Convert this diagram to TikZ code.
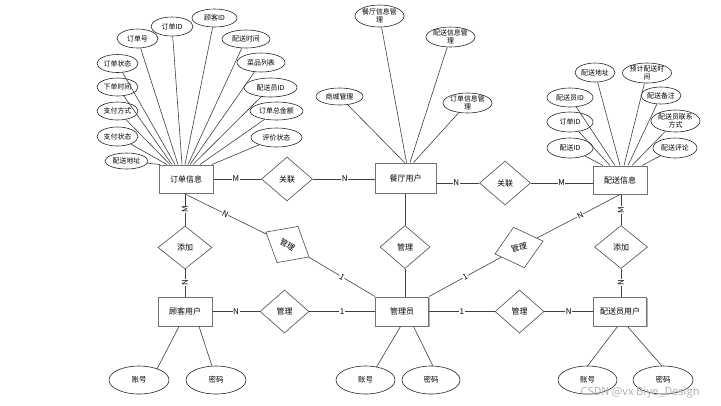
\documentclass[tikz,border=0pt]{standalone}
\usepackage{fontspec}
\setmainfont{Noto Sans CJK SC}
\usetikzlibrary{shapes.geometric,calc,shadows}
\begin{document}
\begin{tikzpicture}[x=0.75pt,y=-0.75pt,
  ent/.style={draw=black!55, line width=0.75pt, fill=white, inner sep=0pt, font=\fontsize{6}{7}\selectfont,
    drop shadow={shadow xshift=0.8pt, shadow yshift=-0.8pt, fill=black!30, opacity=1}},
  esz/.style 2 args={minimum width=#1*0.75pt, minimum height=#2*0.75pt},
  attr/.style={ellipse, draw=black!85, line width=0.45pt, fill=white, inner sep=0pt, align=center, font=\fontsize{5.2}{5.8}\selectfont},
  rel/.style={diamond, draw=black!70, line width=0.45pt, fill=white, inner sep=0pt, font=\fontsize{6}{7}\selectfont},
  ln/.style={draw=black!75, line width=0.45pt},
  card/.style={font=\fontsize{6}{7}\selectfont, fill=white, inner sep=0.4pt},
  wm/.style={text=black!30, font=\fontsize{8.3}{9}\selectfont}
]
\useasboundingbox (0,0) rectangle (721,405);
\fill[white] (0,0) rectangle (721,405);

% entities
\node[ent, esz={54}{28}] (oi) at (186,179) {订单信息};
\node[ent, esz={61}{30}] (rest) at (405.5,178) {餐厅用户};
\node[ent, esz={54}{28}] (ps) at (620,180) {配送信息};
\node[ent, esz={54}{29}] (cust) at (185,311.5) {顾客用户};
\node[ent, esz={53}{29}] (admin) at (402,311.5) {管理员};
\node[ent, esz={53}{29}] (rider) at (620,311.5) {配送员用户};

% relationships
\node[rel, esz={51}{44}] (r1) at (287,179) {关联};
\node[rel, esz={51}{44}] (r2) at (505,183) {关联};
\node[rel, esz={54}{43}] (r3) at (185,247.5) {添加};
\node[rel, esz={50}{42}, rotate=-30] (r4) at (287.5,244.5) {管理};
\node[rel, esz={50}{43}] (r5) at (405,247) {管理};
\node[rel, esz={50}{42}, rotate=15] (r6) at (519,247.5) {管理};
\node[rel, esz={53}{43}] (r7) at (621,247) {添加};
\node[rel, esz={49}{43}] (r8) at (284.5,311.5) {管理};
\node[rel, esz={49}{43}] (r9) at (519.5,311.5) {管理};

% attributes of 订单信息
\node[attr, esz={41}{19}] (a1) at (137.5,38.5) {订单号};
\node[attr, esz={42}{19}] (a2) at (172,26.5) {订单ID};
\node[attr, esz={45}{18}] (a3) at (214.5,18) {顾客ID};
\node[attr, esz={48}{18}] (a4) at (246,39) {配送时间};
\node[attr, esz={48}{19}] (a5) at (261,62.5) {菜品列表};
\node[attr, esz={53}{19}] (a6) at (270.5,87.5) {配送员ID};
\node[attr, esz={53}{18}] (a7) at (276.5,111) {订单总金额};
\node[attr, esz={51}{19}] (a8) at (276.5,137.5) {评价状态};
\node[attr, esz={41}{18}] (a9) at (117.5,63.5) {订单状态};
\node[attr, esz={41}{18}] (a10) at (117.5,87) {下单时间};
\node[attr, esz={41}{18}] (a11) at (117.5,111) {支付方式};
\node[attr, esz={41}{19}] (a12) at (117.5,136.5) {支付状态};
\node[attr, esz={43}{16}] (a13) at (126.5,161) {配送地址};

% attributes of 餐厅用户
\node[attr, esz={47}{22}] (m1) at (379.5,16) {餐厅信息管\\理};
\node[attr, esz={47}{20}] (m2) at (450.5,37) {配送信息管\\理};
\node[attr, esz={47}{17}] (m3) at (339.5,96.5) {商城管理};
\node[attr, esz={49}{20}] (m4) at (467.5,103) {订单信息管\\理};

% attributes of 配送信息
\node[attr, esz={40}{19}] (p1) at (595,72.5) {配送地址};
\node[attr, esz={46}{20}] (p2) at (647,73) {预计配送时\\间};
\node[attr, esz={46}{19}] (p3) at (570,97.5) {配送员ID};
\node[attr, esz={40}{17}] (p4) at (661,95.5) {配送备注};
\node[attr, esz={46}{20}] (p5) at (570,122) {订单ID};
\node[attr, esz={45}{22}] (p6) at (675.5,121) {配送员联系\\方式};
\node[attr, esz={46}{20}] (p7) at (570,148) {配送ID};
\node[attr, esz={44}{20}] (p8) at (675,148) {配送评论};

% bottom attributes
\node[attr, esz={60}{28}, font=\fontsize{5.6}{6.5}\selectfont] (b1) at (139,380) {账号};
\node[attr, esz={60}{28}, font=\fontsize{5.6}{6.5}\selectfont] (b2) at (216,380) {密码};
\node[attr, esz={59}{28}, font=\fontsize{5.6}{6.5}\selectfont] (b3) at (365.5,380) {账号};
\node[attr, esz={58}{28}, font=\fontsize{5.6}{6.5}\selectfont] (b4) at (431,380) {密码};
\node[attr, esz={59}{28}, font=\fontsize{5.6}{6.5}\selectfont] (b5) at (587.5,380) {账号};
\node[attr, esz={60}{28}, font=\fontsize{5.6}{6.5}\selectfont] (b6) at (663,380) {密码};

% attribute connectors
\path[ln] (a13) -- ($(oi.north)+(-26,0)$);
\path[ln] (a12) -- ($(oi.north)+(-19,0)$);
\path[ln] (a11) -- ($(oi.north)+(-16,0)$);
\path[ln] (a10) -- ($(oi.north)+(-14,0)$);
\path[ln] (a9) -- ($(oi.north)+(-11,0)$);
\path[ln] (a1) -- ($(oi.north)+(-8,0)$);
\path[ln] (a2) -- ($(oi.north)+(-4,0)$);
\path[ln] (a3) -- ($(oi.north)+(-1,0)$);
\path[ln] (a4) -- ($(oi.north)+(2,0)$);
\path[ln] (a5) -- ($(oi.north)+(4,0)$);
\path[ln] (a6) -- ($(oi.north)+(7,0)$);
\path[ln] (a7) -- ($(oi.north)+(14,0)$);
\path[ln] (a8) -- ($(oi.north)+(26,0)$);

\path[ln] (m3) -- ($(rest.north)+(-1,0)$);
\path[ln] (m1) -- ($(rest.north)+(1,0)$);
\path[ln] (m2) -- ($(rest.north)+(4.5,0)$);
\path[ln] (m4) -- ($(rest.north)+(8,0)$);

\path[ln] (p7) -- ($(ps.north)+(-17,0)$);
\path[ln] (p5) -- ($(ps.north)+(-10,0)$);
\path[ln] (p3) -- ($(ps.north)+(-5,0)$);
\path[ln] (p1) -- ($(ps.north)+(0,0)$);
\path[ln] (p2) -- ($(ps.north)+(4,0)$);
\path[ln] (p4) -- ($(ps.north)+(8,0)$);
\path[ln] (p6) -- ($(ps.north)+(12,0)$);
\path[ln] (p8) -- ($(ps.north)+(22,0)$);

\path[ln] ($(cust.south)+(-6,0)$) -- ($(b1)+(18,-11)$);
\path[ln] ($(cust.south)+(14,0)$) -- ($(b2)+(-4,-14)$);
\path[ln] ($(admin.south)+(-1.5,0)$) -- ($(b3)+(11,-13)$);
\path[ln] ($(admin.south)+(11.5,0)$) -- ($(b4)+(2,-14)$);
\path[ln] ($(rider.south)+(-2.5,0)$) -- ($(b5)+(0,-14)$);
\path[ln] ($(rider.south)+(7.5,0)$) -- ($(b6)+(-1,-14)$);

% relationship connectors with cardinalities
\path[ln] (oi.east |- r1) -- (r1) node[card, pos=0.47] (c1) {M};
\path[ln] (r1) -- (r1 -| rest.west) node[card, pos=0.52] (c2) {N};
\path[ln] (r2 -| rest.east) -- (r2) node[card, pos=0.46] (c3) {N};
\path[ln] (r2) -- (r2 -| ps.west) node[card, pos=0.5] (c4) {M};

\path[ln] (oi.south -| r3) -- (r3) node[card, pos=0.5, rotate=90] (c5) {M};
\path[ln] (r3) -- (r3 |- cust.north) node[card, pos=0.5, rotate=90] (c6) {N};

\path[ln] ($(oi.south)+(-2,0)$) -- (r4) node[card, pos=0.5, sloped] (c7) {N};
\path[ln] (r4) -- (admin.north west) node[card, pos=0.5, sloped] (c8) {1};

\path[ln] (rest.south -| r5) -- (r5);
\path[ln] (r5) -- (r5 |- admin.north);

\path[ln] (admin.north east) -- (r6) node[card, pos=0.5, sloped] (c9) {1};
\path[ln] (r6) -- (ps.south) node[card, pos=0.52, sloped] (c10) {N};

\path[ln] (ps.south -| r7) -- (r7) node[card, pos=0.5, rotate=90] (c11) {M};
\path[ln] (r7) -- (r7 |- rider.north) node[card, pos=0.5, rotate=90] (c12) {N};

\path[ln] (cust.east) -- (r8) node[card, pos=0.5] (c13) {N};
\path[ln] (r8) -- (admin.west) node[card, pos=0.5] (c14) {1};
\path[ln] (admin.east) -- (r9) node[card, pos=0.5] (c15) {1};
\path[ln] (r9) -- (rider.west) node[card, pos=0.5] (c16) {N};

% watermark
\node[wm] (wmk) at (640,393) {CSDN @vx Biye\_Design};
\end{tikzpicture}
\end{document}
